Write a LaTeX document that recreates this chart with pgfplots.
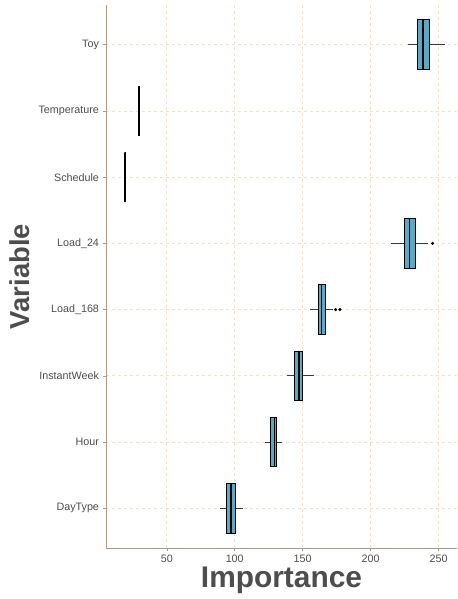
\documentclass[border=0pt]{standalone}
\usepackage{fontspec}
\setmainfont{Liberation Sans}
\usepackage{pgfplots}
\pgfplotsset{compat=1.18}
\usepgfplotslibrary{statistics}
\definecolor{boxfill}{HTML}{5AAAC6}
\definecolor{gridc}{HTML}{F2E0CF}
\definecolor{axisc}{HTML}{AF9A86}
\definecolor{labc}{HTML}{4D4D4D}
\definecolor{tickc}{HTML}{4D4D4D}
\definecolor{tickm}{HTML}{9A9A9A}
\definecolor{whisk}{HTML}{3A3A3A}
\begin{document}
\begin{tikzpicture}
\begin{axis}[
  name=ax, at={(0,0)}, anchor=south west,
  scale only axis, width=351bp, height=543bp,
  xmin=5.3, xmax=263.5, ymin=0.4, ymax=8.6,
  xtick={50,100,150,200,250},
  ytick={1,2,3,4,5,6,7,8},
  yticklabels={DayType,Hour,InstantWeek,Load\_168,Load\_24,Schedule,Temperature,Toy},
  axis x line*=bottom, axis y line*=left,
  axis line style={draw=axisc, line width=0.9bp, -},
  tick align=outside, major tick length=3bp,
  every tick/.style={draw=tickm, line width=0.5bp},
  grid=major,
  every major grid/.style={draw=gridc, dash pattern=on 3bp off 3bp, line width=0.7bp},
  /pgf/number format/assume math mode=true,
  ticklabel style={font=\fontsize{10.8}{12}\selectfont, text=tickc},
  xticklabel style={yshift=-0.5bp},
  yticklabel style={xshift=-0.5bp},
  xlabel={Importance}, ylabel={Variable},
  xlabel style={font=\fontsize{30}{32}\bfseries\selectfont, text=labc, at={(axis description cs:0.5,0)}, anchor=center, inner sep=0pt, yshift=-32bp},
  ylabel style={font=\fontsize{27.5}{30}\bfseries\selectfont, text=labc, at={(axis description cs:-0.245,0.5)}, anchor=center, inner sep=0pt},
  boxplot/draw direction=x,
  boxplot/box extend=0.75,
  boxplot/whisker extend=0,
  boxplot/every box/.style={draw=black, fill=boxfill, line width=0.8bp},
  boxplot/every median/.style={draw=black, line width=1.2bp},
  boxplot/every whisker/.style={draw=whisk, line width=1bp},
  clip=false,
]
% DayType
\addplot[boxplot prepared={draw position=1, lower whisker=89.2, lower quartile=93.9, median=97.3, upper quartile=100.5, upper whisker=105.9}] coordinates {};
% Hour
\addplot[boxplot prepared={draw position=2, lower whisker=122.6, lower quartile=126.3, median=129.0, upper quartile=130.7, upper whisker=135.1}] coordinates {};
% InstantWeek
\addplot[boxplot prepared={draw position=3, lower whisker=138.4, lower quartile=144.0, median=147.2, upper quartile=150.1, upper whisker=158.5}] coordinates {};
% Load_168
\addplot[boxplot prepared={draw position=4, lower whisker=155.0, lower quartile=161.6, median=164.1, upper quartile=166.6, upper whisker=172.5}] coordinates {};
\addplot[only marks, mark=*, mark size=1.4bp, black] coordinates {(174.2,4) (177.4,4)};
% Load_24
\addplot[boxplot prepared={draw position=5, lower whisker=214.9, lower quartile=225.0, median=228.6, upper quartile=233.1, upper whisker=242.2}] coordinates {};
\addplot[only marks, mark=*, mark size=1.4bp, black] coordinates {(245.6,5)};
% Schedule
\addplot[boxplot prepared={draw position=6, lower whisker=19.0, lower quartile=19.4, median=19.4, upper quartile=19.4, upper whisker=19.8, every box/.style={draw=black, line width=1.8bp}}] coordinates {};
% Temperature
\addplot[boxplot prepared={draw position=7, lower whisker=29.2, lower quartile=29.6, median=29.6, upper quartile=29.6, upper whisker=30.0, every box/.style={draw=black, line width=1.8bp}}] coordinates {};
% Toy
\addplot[boxplot prepared={draw position=8, lower whisker=227.2, lower quartile=234.5, median=238.5, upper quartile=243.4, upper whisker=254.4}] coordinates {};
\end{axis}
\path[use as bounding box] (-106bp,-51bp) rectangle (351bp,548bp);
\end{tikzpicture}
\end{document}
